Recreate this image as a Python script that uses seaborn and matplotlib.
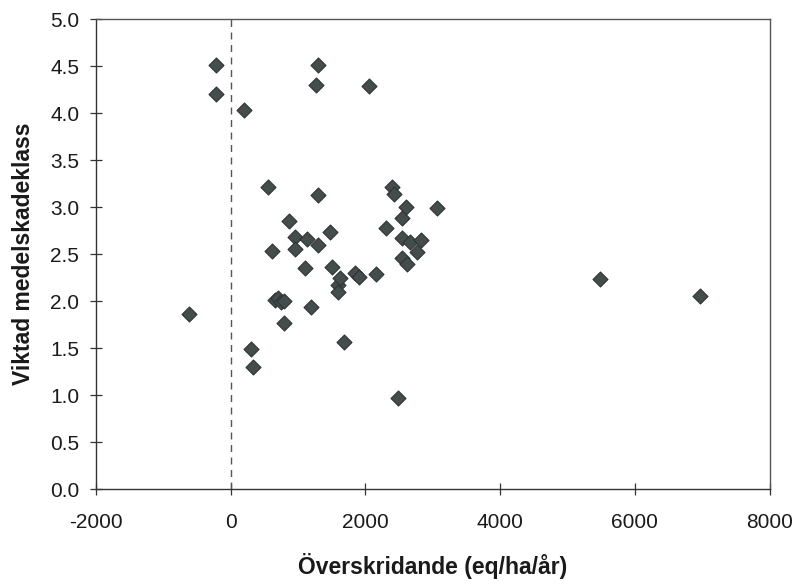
import matplotlib
matplotlib.use("Agg")
import matplotlib.pyplot as plt
import seaborn as sns
import pandas as pd

# Exceedance (eq/ha/year) and weighted mean damage class per site
overskridande = [
    -620, -220, -220, 190, 300, 330, 560, 620, 650, 700,
    740, 790, 790, 860, 950, 950, 1100, 1130, 1190, 1260,
    1290, 1300, 1300, 1480, 1500, 1590, 1590, 1620, 1680, 1840,
    1910, 2050, 2150, 2310, 2390, 2420, 2480, 2550, 2550, 2550,
    2600, 2620, 2660, 2770, 2830, 3060, 5480, 6970,
]
skadeklass = [
    1.86, 4.51, 4.20, 4.03, 1.49, 1.30, 3.22, 2.53, 2.01, 2.03,
    1.99, 2.00, 1.77, 2.85, 2.68, 2.55, 2.35, 2.66, 1.94, 4.30,
    4.51, 3.13, 2.60, 2.74, 2.36, 2.17, 2.10, 2.25, 1.57, 2.30,
    2.26, 4.29, 2.29, 2.78, 3.22, 3.14, 0.97, 2.88, 2.67, 2.46,
    3.00, 2.40, 2.63, 2.52, 2.65, 2.99, 2.24, 2.05,
]

x_ticks = [-2000, 0, 2000, 4000, 6000, 8000]
y_ticks = [0.0, 0.5, 1.0, 1.5, 2.0, 2.5, 3.0, 3.5, 4.0, 4.5, 5.0]

df = pd.DataFrame({"x": overskridande, "y": skadeklass})

sns.set_theme(style="white")
plt.rcParams["font.family"] = ["Liberation Sans", "DejaVu Sans"]

fig = plt.figure(figsize=(7.97, 5.85), dpi=100)
ax = fig.add_axes([0.1205, 0.164, 0.845, 0.803])

ax.axvline(0, color="#555555", lw=1.0, ls=(0, (5, 4)), zorder=1)

sns.scatterplot(data=df, x="x", y="y", ax=ax, marker="D", s=58,
                color="#454c4c", edgecolor="#2e3333", linewidth=0.8,
                zorder=3, legend=False)

ax.set_xlim(-2000, 8000)
ax.set_ylim(0, 5.0)
ax.set_xticks(x_ticks)
ax.set_xticklabels([str(t) for t in x_ticks])
ax.set_yticks(y_ticks)
ax.set_yticklabels([f"{t:.1f}" for t in y_ticks])

for side in ["left", "bottom", "top", "right"]:
    ax.spines[side].set_visible(True)
    ax.spines[side].set_color("#333333")
    ax.spines[side].set_linewidth(1.0)
ax.spines["top"].set_color("#555555")
ax.spines["right"].set_color("#555555")

ax.tick_params(axis="x", direction="inout", length=8, width=0.9,
               color="#333333", labelsize=15, labelcolor="#1a1a1a",
               pad=13, bottom=True)
ax.tick_params(axis="y", direction="inout", length=8, width=0.9,
               color="#333333", labelsize=15, labelcolor="#1a1a1a",
               pad=8, left=True)

ax.set_xlabel("Överskridande (eq/ha/år)", fontsize=16.5, fontweight="bold",
              color="#1a1a1a", labelpad=15)
ax.set_ylabel("Viktad medelskadeklass", fontsize=16.5, fontweight="bold",
              color="#1a1a1a", labelpad=11)

fig.savefig("out.png", dpi=100, facecolor="white")
